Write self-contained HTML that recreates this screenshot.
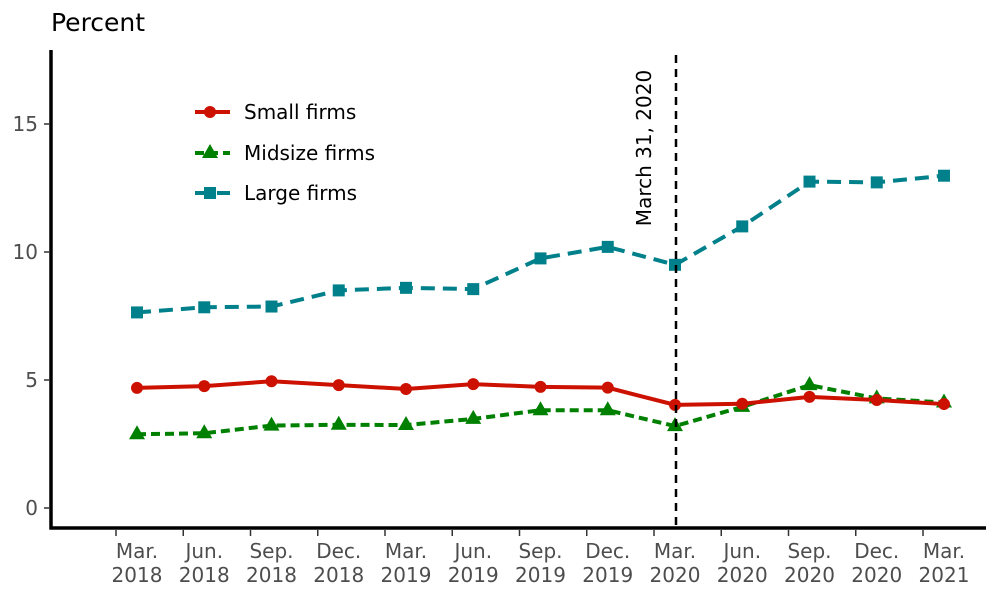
<!DOCTYPE html>
<html><head><meta charset="utf-8"><style>
html,body{margin:0;padding:0;background:#fff;width:1000px;height:596px;overflow:hidden}
svg{font-family:"DejaVu Sans","Liberation Sans",sans-serif}
</style></head><body>
<svg id="chart" width="1000" height="596">
<text x="51" y="31" font-size="25" fill="#000">Percent</text>
<g id="axes"></g>
<g id="series"></g>
<line x1="676" y1="55" x2="676" y2="528" stroke="#000" stroke-width="2.5" stroke-dasharray="8,6"/>
<text transform="translate(651,148) rotate(-90)" text-anchor="middle" font-size="20" fill="#000">March 31, 2020</text>
<g>
<g>
<line x1="195" y1="112" x2="230" y2="112" stroke="#cc1100" stroke-width="4"/><circle cx="210" cy="112" r="6" fill="#cc1100"/>
<text x="244" y="119" font-size="20">Small firms</text></g>
<g>
<line x1="195" y1="153" x2="230" y2="153" stroke="#008000" stroke-width="4" stroke-dasharray="9,5"/><polygon points="210,144 218,158 202,158" fill="#008000"/>
<text x="244" y="160" font-size="20">Midsize firms</text></g>
<g>
<line x1="195" y1="193" x2="230" y2="193" stroke="#00808a" stroke-width="4" stroke-dasharray="14,8"/><rect x="204" y="187" width="12" height="12" fill="#00808a"/>
<text x="244" y="200" font-size="20">Large firms</text></g>
</g>
</svg>
<script>
const quarters=["Mar.|2018","Jun.|2018","Sep.|2018","Dec.|2018","Mar.|2019","Jun.|2019","Sep.|2019","Dec.|2019","Mar.|2020","Jun.|2020","Sep.|2020","Dec.|2020","Mar.|2021"];
const smallFirms=[4.69,4.76,4.95,4.8,4.65,4.84,4.73,4.7,4.03,4.07,4.34,4.22,4.06];
const midsizeFirms=[2.88,2.92,3.22,3.25,3.24,3.48,3.82,3.82,3.2,3.95,4.8,4.28,4.12];
const largeFirms=[7.64,7.84,7.87,8.5,8.6,8.55,9.75,10.2,9.5,11.0,12.75,12.72,12.98];
const yTicks=[0,5,10,15];
const NS="http://www.w3.org/2000/svg";
const xs=i=>137+i*67.25, ys=v=>508-v*25.6;
const axes=document.getElementById('axes'), ser=document.getElementById('series');
function mk(tag,attrs,parent){const e=document.createElementNS(NS,tag);for(const k in attrs)e.setAttribute(k,attrs[k]);parent.appendChild(e);return e;}
let a=mk('line',{x1:51,y1:50,x2:51,y2:529.5,stroke:'#000','stroke-width':3.5},axes);


a=mk('line',{x1:49.5,y1:528,x2:986,y2:528,stroke:'#000','stroke-width':3.5},axes);


yTicks.forEach(v=>{
 mk('line',{x1:44,x2:50,y1:ys(v),y2:ys(v),stroke:'#333','stroke-width':1.5},axes);
 const t=mk('text',{x:38,y:ys(v)+7,'text-anchor':'end','font-size':20,fill:'#4d4d4d'},axes);t.textContent=v;
 
 
});
quarters.forEach((q,i)=>{
 const x=xs(i)-21;
 mk('line',{x1:x,x2:x,y1:530,y2:536,stroke:'#333','stroke-width':1.5},axes);
 const p=q.split('|');
 const t=mk('text',{x:xs(i),y:558,'text-anchor':'middle','font-size':20,fill:'#4d4d4d'},axes);t.textContent=p[0];
 
 
 const t2=mk('text',{x:xs(i),y:582,'text-anchor':'middle','font-size':20,fill:'#4d4d4d'},axes);t2.textContent=p[1];
 
 
});
function series(vals,color,dash,shape,name){
 const pl=mk('polyline',{points:vals.map((v,i)=>xs(i)+','+ys(v)).join(' '),fill:'none',stroke:color,'stroke-width':4,'stroke-dasharray':dash},ser);
 
 
 vals.forEach((v,i)=>{
  const x=xs(i),y=ys(v);let m;
  if(shape==='c')m=mk('circle',{cx:x,cy:y,r:6,fill:color},ser);
  else if(shape==='t')m=mk('polygon',{points:`${x},${y-9} ${x+8},${y+5} ${x-8},${y+5}`,fill:color},ser);
  else m=mk('rect',{x:x-6,y:y-6,width:12,height:12,fill:color},ser);
  
  
 });
}
series(largeFirms,'#00808a','14,8','s','large-firms');
series(midsizeFirms,'#008000','9,5','t','midsize-firms');
series(smallFirms,'#cc1100','none','c','small-firms');
</script>
</body></html>
